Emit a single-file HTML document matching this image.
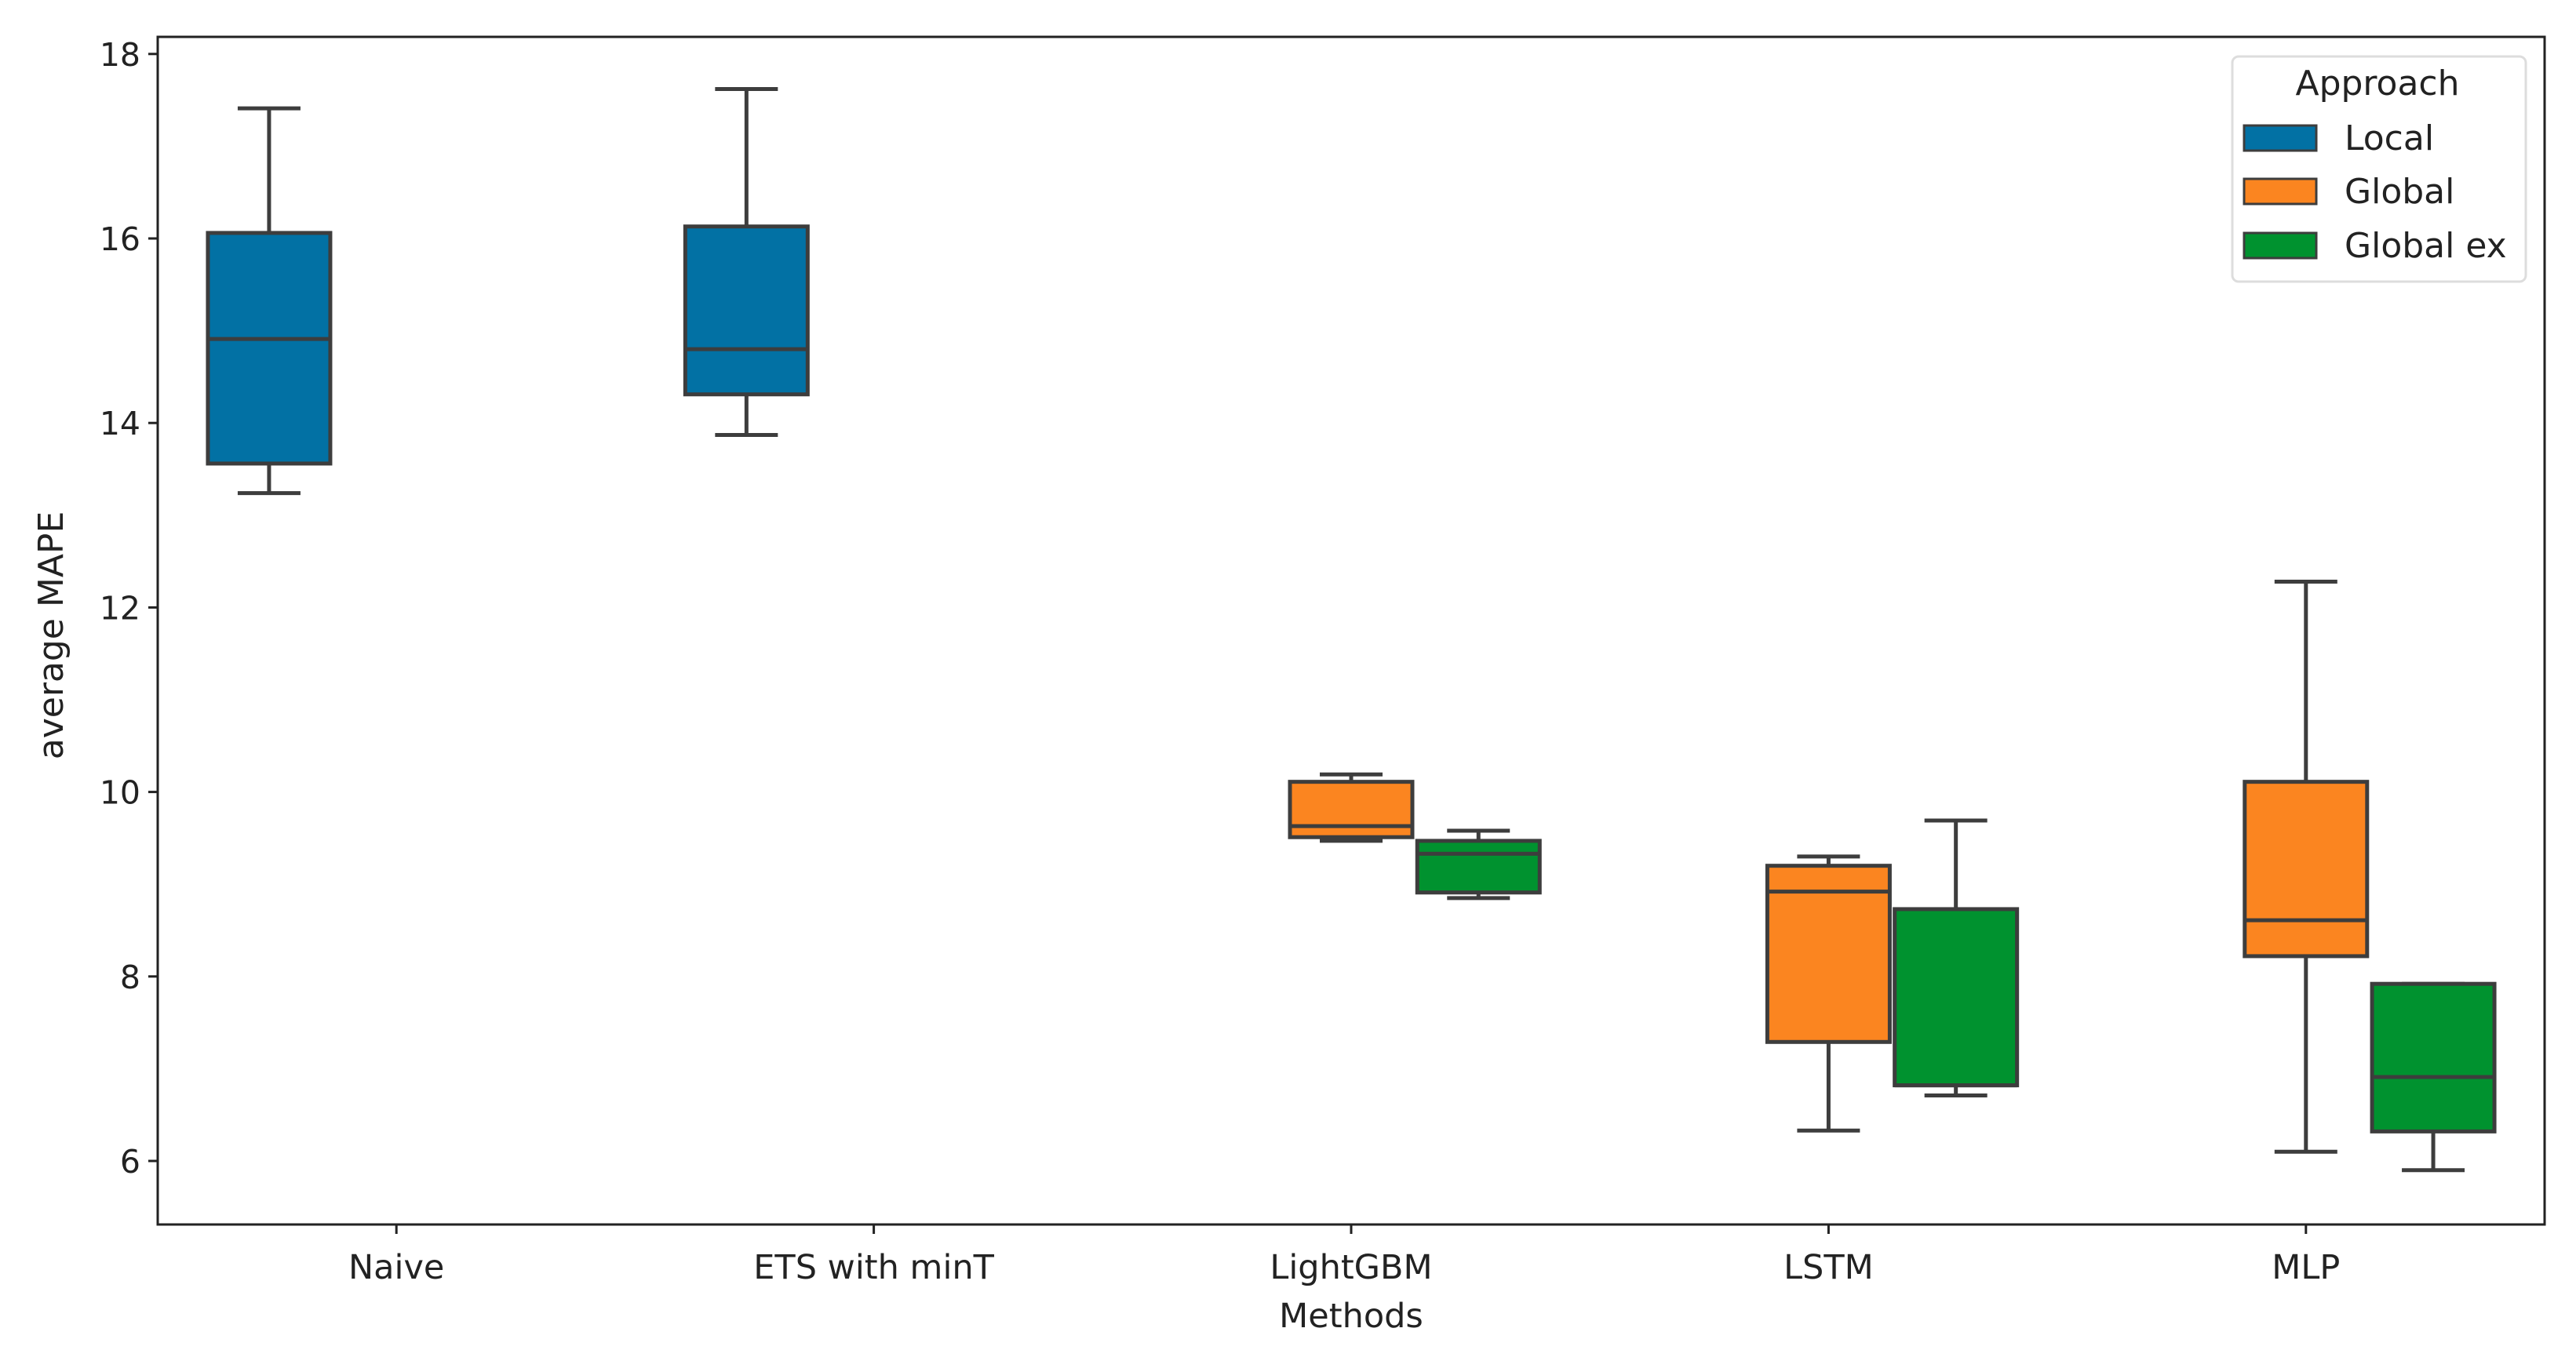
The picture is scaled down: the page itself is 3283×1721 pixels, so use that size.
<!DOCTYPE html>
<html><head><meta charset="utf-8"><style>
html,body{margin:0;padding:0;background:#fff;}
svg{display:block;}
text{font-family:"DejaVu Sans","Liberation Sans",sans-serif;fill:#222;}
</style></head><body>
<svg id="chart" width="3283" height="1721" viewBox="0 0 3283 1721" xmlns="http://www.w3.org/2000/svg"></svg>
<script>
const categories = ["Naive","ETS with minT","LightGBM","LSTM","MLP"];
const hues = ["Local","Global","Global ex"];
const hueColors = ["#0271a4","#fb8520","#00922f"];
// each entry: [category index, hue index, low, q1, median, q3, high]
const localStats = [[0,0,13.24,13.56,14.91,16.06,17.41],[1,0,13.87,14.31,14.80,16.13,17.62]];
const globalStats = [[2,1,9.47,9.51,9.63,10.11,10.19],[3,1,6.33,7.29,8.92,9.20,9.30],[4,1,6.10,8.22,8.61,10.11,12.28]];
const globalExStats = [[2,2,8.85,8.91,9.33,9.47,9.58],[3,2,6.71,6.82,6.82,8.73,9.69],[4,2,5.90,6.32,6.91,7.92,7.92]];
const yTicks = [6,8,10,12,14,16,18];

const svg = document.getElementById('chart');
const NS = "http://www.w3.org/2000/svg";
const L=201, R=3243, T=47, B=1561;
const y = v => 1480 - (v-6)*117.6;
const band = (R-L)/categories.length;
const x = i => L + (i+0.5)*band;
const hueOff = h => (h-1)*band*0.2667;
const boxW = 156;
function mk(tag, attrs, parent){const e=document.createElementNS(NS,tag);for(const k in attrs)e.setAttribute(k,attrs[k]);(parent||svg).appendChild(e);return e;}

const frame = mk('rect',{x:L,y:T,width:R-L,height:B-T,fill:'none',stroke:'#222','stroke-width':3});



yTicks.forEach(v=>{
  const g=mk('g',{});
  
  
  mk('line',{x1:L-12,x2:L,y1:y(v),y2:y(v),stroke:'#222','stroke-width':3},g);
  const t=mk('text',{x:L-22,y:y(v)+15,'text-anchor':'end','font-size':41},g);
  t.textContent=v;
});
categories.forEach((c,i)=>{
  const g=mk('g',{});
  
  
  mk('line',{x1:x(i),x2:x(i),y1:B,y2:B+12,stroke:'#222','stroke-width':3},g);
  const t=mk('text',{x:x(i),y:1630,'text-anchor':'middle','font-size':43},g);
  t.textContent=c;
});
const xt=mk('text',{x:(L+R)/2,y:1692,'text-anchor':'middle','font-size':43});
xt.textContent='Methods';


const yt=mk('text',{x:0,y:0,'text-anchor':'middle','font-size':44,transform:'translate(80,810) rotate(-90)'});
yt.textContent='average MAPE';



const stroke='#3d3d3d', sw=5;
[localStats,globalStats,globalExStats].forEach(series=>{
  series.forEach(s=>{
    const [ci,hi,lo,q1,md,q3,hi2]=s;
    const cx=x(ci)+hueOff(hi);
    const g=mk('g',{});
    
    
    mk('line',{x1:cx,x2:cx,y1:y(q3),y2:y(hi2),stroke,'stroke-width':sw},g);
    mk('line',{x1:cx,x2:cx,y1:y(q1),y2:y(lo),stroke,'stroke-width':sw},g);
    mk('line',{x1:cx-40,x2:cx+40,y1:y(hi2),y2:y(hi2),stroke,'stroke-width':sw},g);
    mk('line',{x1:cx-40,x2:cx+40,y1:y(lo),y2:y(lo),stroke,'stroke-width':sw},g);
    mk('rect',{x:cx-boxW/2,y:y(q3),width:boxW,height:y(q1)-y(q3),fill:hueColors[hi],stroke,'stroke-width':sw},g);
    mk('line',{x1:cx-boxW/2,x2:cx+boxW/2,y1:y(md),y2:y(md),stroke,'stroke-width':sw},g);
  });
});

const lg=mk('g',{});


mk('rect',{x:2845,y:72,width:374,height:287,rx:8,fill:'#fff',stroke:'#ddd','stroke-width':3},lg);
const lt=mk('text',{x:3030,y:121,'text-anchor':'middle','font-size':44},lg);
lt.textContent='Approach';
const rowY=[176,244,313];
hues.forEach((h,i)=>{
  const e=mk('g',{},lg);
  
  
  mk('rect',{x:2860,y:rowY[i]-16,width:92,height:32,fill:hueColors[i],stroke:'#3d3d3d','stroke-width':3},e);
  const t=mk('text',{x:2988,y:rowY[i]+15,'font-size':44},e);
  t.textContent=h;
});
</script>
</body></html>
